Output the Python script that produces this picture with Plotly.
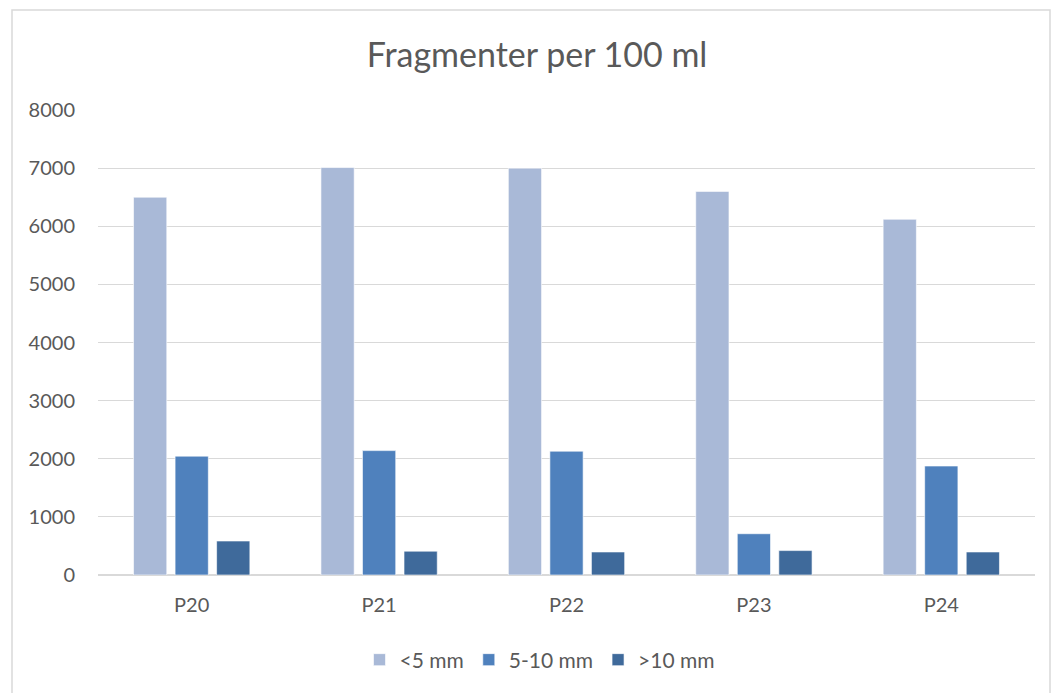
import plotly.graph_objects as go

categories = ["P20", "P21", "P22", "P23", "P24"]
series_names = ["<5 mm", "5-10 mm", ">10 mm"]
lt5 = [6500, 7010, 7000, 6600, 6120]
mid = [2045, 2140, 2130, 710, 1875]
gt10 = [585, 410, 396, 420, 396]
colors = ["#A9B9D7", "#4F81BD", "#3F6A9B"]
y_ticks = [0, 1000, 2000, 3000, 4000, 5000, 6000, 7000, 8000]

fig = go.Figure()
for name, vals, c in zip(series_names, [lt5, mid, gt10], colors):
    fig.add_trace(go.Bar(x=categories, y=vals, name=name, marker_color=c,
                         marker_line=dict(color="rgba(255,255,255,0.6)", width=1)))

W, H = 1064, 693
L, R, T, B = 98, 29, 110, 118
pw, ph = W - L - R, H - T - B

def px2paper_x(px):
    return (px - L) / pw

def px2paper_y(py):
    return (H - B - py) / ph

fig.add_shape(type="rect", xref="paper", yref="paper",
              x0=px2paper_x(12), x1=px2paper_x(1050),
              y0=px2paper_y(705), y1=px2paper_y(10),
              line=dict(color="#D9D9D9", width=1.5), fillcolor="rgba(0,0,0,0)", layer="below")

font = "Lato, 'Open Sans', sans-serif"
fig.update_layout(
    width=W, height=H,
    margin=dict(l=L, r=R, t=T, b=B),
    paper_bgcolor="white", plot_bgcolor="white",
    barmode="group", bargap=0.335, bargroupgap=0.2,
    font=dict(family=font, color="#595959", size=20),
    title=dict(text="Fragmenter per 100 ml", x=537 / W, xref="container", xanchor="center",
               y=1 - 55 / H, yanchor="middle",
               font=dict(size=34, color="#595959", family=font)),
    xaxis=dict(showgrid=False, showline=False, ticks="", tickfont=dict(size=20),
               ticklabelstandoff=16),
    yaxis=dict(range=[0, 8000], tickvals=y_ticks, showgrid=True, gridcolor="#D9D9D9",
               gridwidth=1.3, zeroline=True, zerolinecolor="#D9D9D9", zerolinewidth=1.5,
               showline=False, ticks="", tickfont=dict(size=20), ticklabelstandoff=22),
    legend=dict(orientation="h", x=px2paper_x(540), xanchor="center",
                y=px2paper_y(660), yanchor="middle", font=dict(size=21),
                itemwidth=30, traceorder="normal"),
    showlegend=True,
)

fig.write_html("out.html", post_script="document.body.style.margin='0';",
               config={"displayModeBar": False})
